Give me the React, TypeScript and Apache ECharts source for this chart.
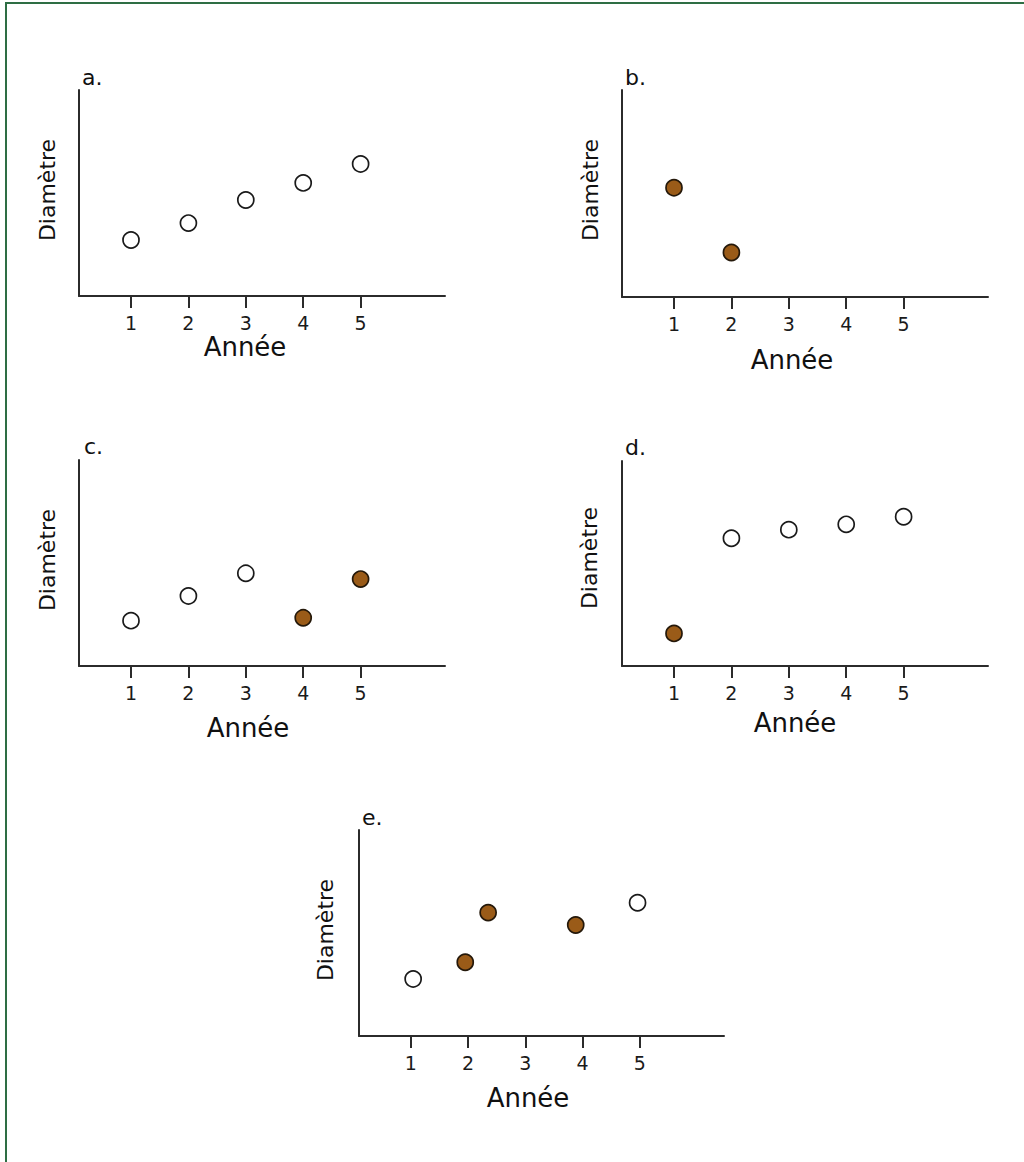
import React, { useEffect, useRef } from "react";
import * as echarts from "echarts";

// ---- Data ----
const yearTicks = [1, 2, 3, 4, 5];
const panelLetters = ["a.", "b.", "c.", "d.", "e."];
const xAxisTitle = "Année";
const yAxisTitle = "Diamètre";

const aYears = [1, 2, 3, 4, 5];
const aDiam = [27.2, 35.4, 46.6, 54.9, 64.1];
const aFilled = [false, false, false, false, false];

const bYears = [1, 2];
const bDiam = [52.8, 21.5];
const bFilled = [true, true];

const cYears = [1, 2, 3, 4, 5];
const cDiam = [22, 34, 45, 23.4, 42.2];
const cFilled = [false, false, false, true, true];

const dYears = [1, 2, 3, 4, 5];
const dDiam = [15.9, 62.3, 66.5, 69.1, 72.8];
const dFilled = [true, false, false, false, false];

const eYears = [1.04, 1.95, 2.35, 3.88, 4.96];
const eDiam = [27.7, 35.8, 59.9, 53.9, 64.7];
const eFilled = [false, true, true, true, false];

const panelsData = [
  { years: aYears, diam: aDiam, filled: aFilled },
  { years: bYears, diam: bDiam, filled: bFilled },
  { years: cYears, diam: cDiam, filled: cFilled },
  { years: dYears, diam: dDiam, filled: dFilled },
  { years: eYears, diam: eDiam, filled: eFilled },
];

// ---- Layout (pixels) ----
const layout = [
  { left: 79, top: 90, width: 366, height: 206, letter: [82, 77], xName: [245, 347], yName: [47, 190] },
  { left: 622, top: 90, width: 366, height: 207, letter: [625, 77], xName: [792, 360], yName: [590, 190] },
  { left: 79, top: 460, width: 366, height: 206, letter: [84, 446], xName: [248, 728], yName: [47, 560] },
  { left: 622, top: 461, width: 366, height: 205, letter: [625, 447], xName: [795, 723], yName: [589, 558] },
  { left: 359, top: 830, width: 365, height: 206, letter: [362, 817], xName: [528, 1098], yName: [325, 930] },
];

const X_MIN = 0.094;
const X_MAX = 6.47;
const FONT = "'DejaVu Sans', Verdana, sans-serif";
const AXIS_COLOR = "#2b2b2b";
const BROWN = "#9a5b18";

export default function App() {
  const ref = useRef<HTMLDivElement>(null);

  useEffect(() => {
    document.body.style.margin = "0";
    if (!ref.current) return;
    const chart = echarts.init(ref.current, null, { renderer: "svg" });

    const grid = layout.map((l) => ({ left: l.left, top: l.top, width: l.width, height: l.height }));
    const xAxis = layout.map((_, i) => ({
      type: "value",
      gridIndex: i,
      min: X_MIN,
      max: X_MAX,
      axisLine: { show: true, onZero: false, lineStyle: { color: AXIS_COLOR, width: 2 } },
      axisTick: { show: true, customValues: yearTicks, length: 12, lineStyle: { color: AXIS_COLOR, width: 2 } },
      axisLabel: {
        show: true,
        customValues: yearTicks,
        margin: 17,
        color: "#1a1a1a",
        fontSize: 19,
        fontFamily: "DejaVu Sans",
        textStyle: { fontSize: 19 },
      },
      splitLine: { show: false },
    }));
    const yAxis = layout.map((_, i) => ({
      type: "value",
      gridIndex: i,
      min: 0,
      max: 100,
      axisLine: { show: true, onZero: false, lineStyle: { color: AXIS_COLOR, width: 2 } },
      axisTick: { show: false },
      axisLabel: { show: false },
      splitLine: { show: false },
    }));
    const series = panelsData.map((p, i) => ({
      type: "scatter",
      xAxisIndex: i,
      yAxisIndex: i,
      symbol: "circle",
      symbolSize: 16,
      data: p.years.map((y, j) => ({
        value: [y, p.diam[j]],
        itemStyle: p.filled[j]
          ? { color: BROWN, borderColor: "#24180a", borderWidth: 1.7, opacity: 1 }
          : { color: "#ffffff", borderColor: "#1a1a1a", borderWidth: 1.7, opacity: 1 },
      })),
    }));

    const graphic: any[] = [
      { type: "line", shape: { x1: 6, y1: 3, x2: 6, y2: 1162 }, style: { stroke: "#2e6e44", lineWidth: 2 } },
      { type: "line", shape: { x1: 5, y1: 3, x2: 1024, y2: 3 }, style: { stroke: "#2e6e44", lineWidth: 2 } },
    ];
    layout.forEach((l, i) => {
      graphic.push({
        type: "text",
        x: l.letter[0],
        y: l.letter[1],
        style: { text: panelLetters[i], font: `22px ${FONT}`, fill: "#111", textAlign: "left", textVerticalAlign: "middle" },
      });
      graphic.push({
        type: "text",
        x: l.xName[0],
        y: l.xName[1],
        style: { text: xAxisTitle, font: `26px ${FONT}`, fill: "#111", textAlign: "center", textVerticalAlign: "middle" },
      });
      graphic.push({
        type: "text",
        x: l.yName[0],
        y: l.yName[1],
        rotation: Math.PI / 2,
        style: { text: yAxisTitle, font: `22px ${FONT}`, fill: "#111", textAlign: "center", textVerticalAlign: "middle" },
      });
    });

    chart.setOption({
      animation: false,
      backgroundColor: "#ffffff",
      grid,
      xAxis,
      yAxis,
      series,
      graphic,
    });
    return () => chart.dispose();
  }, []);

  return <div ref={ref} style={{ width: 1024, height: 1162 }} />;
}
